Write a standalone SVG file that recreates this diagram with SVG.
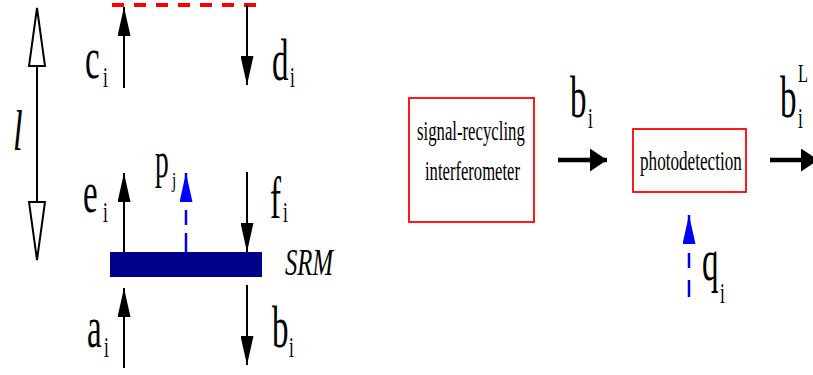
<svg xmlns="http://www.w3.org/2000/svg" width="813" height="375" viewBox="0 0 813 375">
<style>
.t{font-family:"Liberation Serif","Times New Roman",serif;fill:#000}
.m{font-size:60px}
.s{font-size:29px}
.it{font-style:italic}
.box{fill:#fff;stroke:#f00;stroke-width:1.8}
.bl{stroke:#000;stroke-width:2;fill:none}
.bb{stroke:#00f;stroke-width:2.5;fill:none}
.hb{stroke:#000;stroke-width:4.5;fill:none}
.hol{fill:#fff;stroke:#000;stroke-width:2}
.bt{font-size:27px}
</style>
<defs>
<marker id="ah" markerUnits="userSpaceOnUse" viewBox="0 0 29 13" markerWidth="29" markerHeight="13" refX="29" refY="6.5" orient="auto">
<path d="M0,0 L29,6.5 L0,13 Z" fill="#000"/>
</marker>
<marker id="bh" markerUnits="userSpaceOnUse" viewBox="0 0 29 13" markerWidth="29" markerHeight="13" refX="29" refY="6.5" orient="auto">
<path d="M0,0 L29,6.5 L0,13 Z" fill="#00f"/>
</marker>
<marker id="hh" markerUnits="userSpaceOnUse" viewBox="0 0 17 23" markerWidth="17" markerHeight="23" refX="17" refY="11.5" orient="auto">
<path d="M0,0 L17,11.5 L0,23 Z" fill="#000"/>
</marker>
</defs>
<rect width="813" height="375" fill="#fff"/>

<g id="connectors">
<line x1="112" y1="5" x2="256" y2="5" stroke="#f00" stroke-width="4" stroke-dasharray="12 10"/>
<line class="bl" x1="124" y1="88" x2="124" y2="7" marker-end="url(#ah)"/>
<line class="bl" x1="247" y1="5" x2="247" y2="85" marker-end="url(#ah)"/>
<line class="bl" x1="124" y1="253" x2="124" y2="173" marker-end="url(#ah)"/>
<line class="bl" x1="247" y1="172" x2="247" y2="252" marker-end="url(#ah)"/>
<line class="bl" x1="124" y1="368" x2="124" y2="288" marker-end="url(#ah)"/>
<line class="bl" x1="247" y1="285" x2="247" y2="365" marker-end="url(#ah)"/>
<path class="bb" d="M186,252 L186,173" stroke-dasharray="19 8 15 8 60" marker-end="url(#bh)"/>
<path class="bb" d="M689,297 L689,215" stroke-dasharray="17 12 15 10 60" marker-end="url(#bh)"/>
<line class="hb" x1="558" y1="160" x2="607" y2="160" marker-end="url(#hh)"/>
<line class="hb" x1="770" y1="160" x2="818" y2="160" marker-end="url(#hh)"/>
<g id="length-arrow">
<line class="bl" x1="37" y1="66" x2="37" y2="202"/>
<polygon class="hol" points="37,8 45,66 29,66"/>
<polygon class="hol" points="37,260 45,202 29,202"/>
</g>
</g>

<g id="srm">
<rect x="110" y="252" width="152" height="25" fill="#00008b"/>
<text class="t it" font-size="38" transform="translate(285,275) scale(0.65,1)">SRM</text>
</g>

<g id="interferometer">
<rect class="box" x="409" y="98" width="125" height="124"/>
<text class="t bt" transform="translate(417,140) scale(0.62,1)">signal-recycling</text>
<text class="t bt" transform="translate(425,180) scale(0.615,1)">interferometer</text>
</g>

<g id="photodetection">
<rect class="box" x="633" y="129" width="113" height="63"/>
<text class="t bt" transform="translate(640,170) scale(0.635,1)">photodetection</text>
</g>

<g id="labels">
<text class="t it" font-size="58" transform="translate(13,150) scale(0.6,1)">l</text>
<text class="t m" transform="translate(85,78) scale(0.55,1)">c</text>
<text class="t s" transform="translate(103,87) scale(0.6,1)">i</text>
<text class="t m" transform="translate(272,80) scale(0.55,1)">d</text>
<text class="t s" transform="translate(290,87) scale(0.6,1)">i</text>
<text class="t m" transform="translate(83,212) scale(0.55,1)">e</text>
<text class="t s" transform="translate(103,222) scale(0.6,1)">i</text>
<text class="t" font-size="50" transform="translate(155,177) scale(0.55,1)">p</text>
<text class="t" font-size="22" transform="translate(172,187) scale(0.7,1)">j</text>
<text class="t m" transform="translate(270,218) scale(0.55,1)">f</text>
<text class="t s" transform="translate(283,222) scale(0.6,1)">i</text>
<text class="t m" transform="translate(87,347) scale(0.55,1)">a</text>
<text class="t s" transform="translate(104,357) scale(0.6,1)">i</text>
<text class="t m" transform="translate(272,347) scale(0.55,1)">b</text>
<text class="t s" transform="translate(289,357) scale(0.6,1)">i</text>
<text class="t m" transform="translate(570,117) scale(0.55,1)">b</text>
<text class="t s" transform="translate(588,128) scale(0.6,1)">i</text>
<text class="t m" transform="translate(780,117) scale(0.55,1)">b</text>
<text class="t s" transform="translate(798,128) scale(0.6,1)">i</text>
<text class="t" font-size="26" transform="translate(798,82) scale(0.63,1)">L</text>
<text class="t m" transform="translate(702,280) scale(0.55,1)">q</text>
<text class="t s" transform="translate(720,303) scale(0.6,1)">i</text>
</g>
</svg>
